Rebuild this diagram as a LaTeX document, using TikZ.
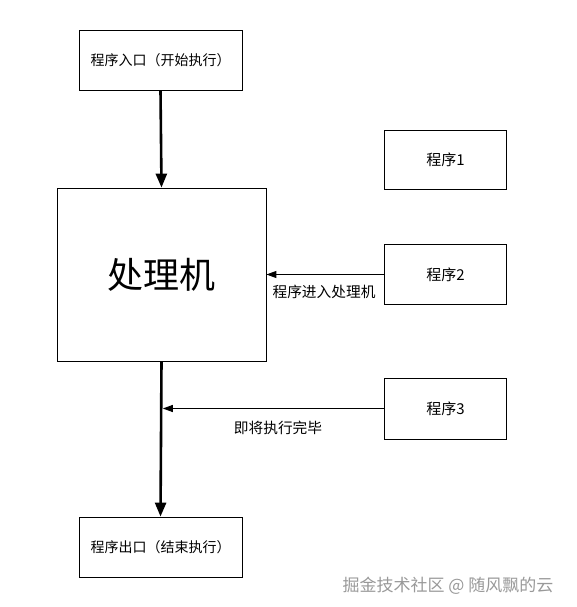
\documentclass[tikz,border=0pt]{standalone}
\usepackage{fontspec}
\setmainfont{Noto Sans CJK SC}
\usetikzlibrary{arrows.meta}
\tikzset{
	box/.style={draw,thick,inner sep=0pt,font=\fontsize{14}{16}\selectfont},
	flow/.style={line width=2.6pt,-{Triangle[length=14pt,width=11pt]}},
	feed/.style={line width=1pt,-{Triangle[length=10pt,width=7pt]}},
	note/.style={font=\fontsize{14.7}{17}\selectfont}
}
\begin{document}
\begin{tikzpicture}[x=1pt,y=-1pt]
		\useasboundingbox (0,0) rectangle (577,607);
		
		\node[box,minimum width=163pt,minimum height=60pt] (entry) at (160.5,60) {程序入口（开始执行）};
		\node[box,minimum width=209pt,minimum height=173pt,font=\fontsize{36}{40}\selectfont] (cpu) at (161.5,274.5) {处理机};
		\node[box,minimum width=122pt,minimum height=59pt,font=\fontsize{15}{17}\selectfont] (prog1) at (445.5,159.5) {程序1};
		\node[box,minimum width=122pt,minimum height=60pt,font=\fontsize{15}{17}\selectfont] (prog2) at (445.5,274.5) {程序2};
		\node[box,minimum width=122pt,minimum height=61pt,font=\fontsize{15}{17}\selectfont] (prog3) at (445.5,408.5) {程序3};
		\node[box,minimum width=163pt,minimum height=60pt] (exit) at (160.5,547) {程序出口（结束执行）};
		
		\draw[flow] (entry.south) -- (cpu.north);
		\draw[flow] (cpu.south) -- (exit.north);
		
		\draw[feed] (prog2.west) -- (cpu.east);
		\node[note] (enter) at (324,292) {程序进入处理机};
		
		\coordinate (join) at (162.8,408.5);
		\draw[feed] (prog3.west) -- (join);
		\node[note] (finish) at (278,428) {即将执行完毕};
		
		\node[font=\fontsize{17}{19}\selectfont,text=gray!80] (mark) at (448,586) {掘金技术社区 @ 随风飘的云};
	\end{tikzpicture}
\end{document}
